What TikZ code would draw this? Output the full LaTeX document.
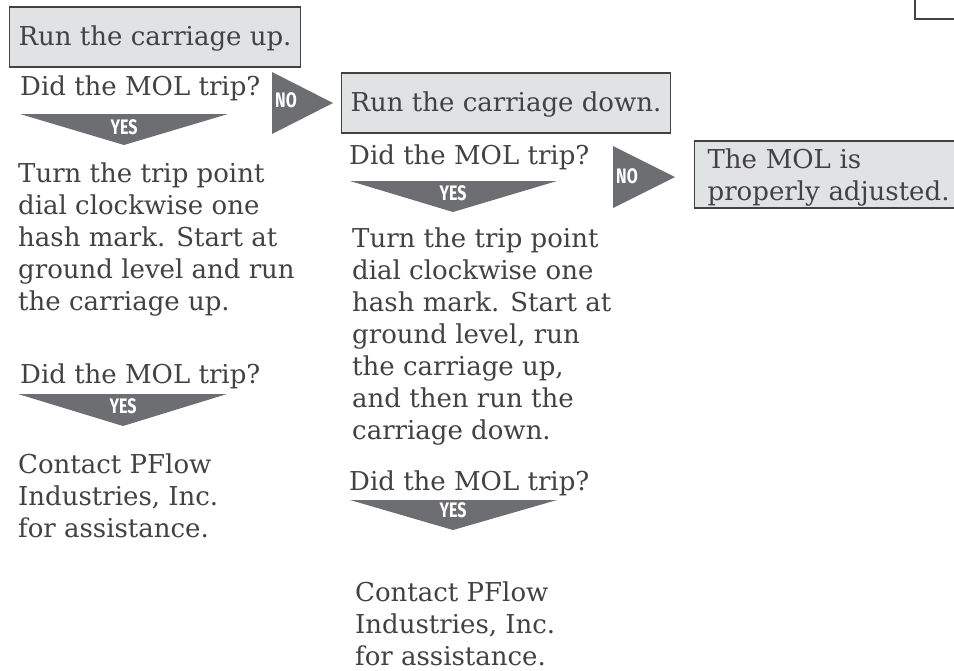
\documentclass[tikz,border=0pt]{standalone}
\usepackage{fontspec}
\setmainfont{DejaVu Serif}
\newfontfamily\tagfont{Fira Sans}[FakeStretch=0.76]
\usetikzlibrary{positioning}

\definecolor{inkgray}{HTML}{424243}
\definecolor{boxgray}{HTML}{E1E2E3}
\definecolor{tipgray}{HTML}{6D6E71}

\tikzset{
  stepbox/.style={draw=inkgray, fill=boxgray, line width=1.3pt, anchor=base west,
    inner xsep=9pt, inner ysep=0pt, text height=38pt, text depth=22pt,
    text=inkgray, font=\fontsize{26}{32}\selectfont},
  plaintext/.style={anchor=base west, inner sep=0pt, align=left, text=inkgray,
    font=\fontsize{26}{32}\selectfont},
  tag/.style={text=white, inner sep=0pt, font=\tagfont\bfseries\fontsize{21}{21}\selectfont},
  tip/.style={fill=tipgray}
}

\begin{document}
\begin{tikzpicture}[x=1pt, y=-1pt]
    \useasboundingbox (0,0) rectangle (954,670);

    % boxes
    \node[stepbox] (up) at (9,45) {Run the carriage up.};
    \node[stepbox] (down) at (341,111) {Run the carriage down.};
    \node[stepbox, align=left, text width=250pt, inner xsep=13pt, text height=27pt, text depth=40pt] (ok) at (694,168) {The MOL is\\properly adjusted.};
    \draw[inkgray, line width=1.3pt] (915,-20) rectangle (1000,19);

    % first column
    \node[plaintext] (ask1) at (20,95) {Did the MOL trip?};
    \fill[tip] (20,114) -- (228,114) -- (124,145) -- cycle;
    \node[tag] (yes1) at (124,127) {YES};
    \fill[tip] (272,72) -- (333,103) -- (272,134) -- cycle;
    \node[tag] (no1) at (286,100) {NO};
    \node[plaintext] (turn1) at (18,310) {Turn the trip point\\dial clockwise one\\hash mark. Start at\\ground level and run\\the carriage up.};
    \node[plaintext] (ask3) at (20,383) {Did the MOL trip?};
    \fill[tip] (18,394) -- (227,394) -- (123,426) -- cycle;
    \node[tag] (yes3) at (123,406) {YES};
    \node[plaintext] (call1) at (18,537) {Contact PFlow\\Industries, Inc.\\for assistance.};

    % second column
    \node[plaintext] (ask2) at (349,164) {Did the MOL trip?};
    \fill[tip] (350,181) -- (557,181) -- (453,212) -- cycle;
    \node[tag] (yes2) at (453,193) {YES};
    \fill[tip] (613,146) -- (675,177) -- (613,208) -- cycle;
    \node[tag] (no2) at (627,176) {NO};
    \node[plaintext] (turn2) at (352,439) {Turn the trip point\\dial clockwise one\\hash mark. Start at\\ground level, run\\the carriage up,\\and then run the\\carriage down.};
    \node[plaintext] (ask4) at (349,490) {Did the MOL trip?};
    \fill[tip] (350,500) -- (557,500) -- (453,530) -- cycle;
    \node[tag] (yes4) at (453,510) {YES};
    \node[plaintext] (call2) at (355,665) {Contact PFlow\\Industries, Inc.\\for assistance.};
\end{tikzpicture}
\end{document}
